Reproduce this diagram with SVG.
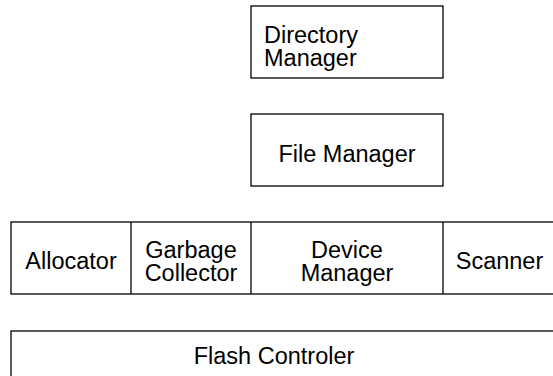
<svg xmlns="http://www.w3.org/2000/svg" width="553" height="376" viewBox="0 0 553 376">
<style>
.box{fill:#fff;stroke:#000;stroke-width:1.3}
.div{stroke:#000;stroke-width:1.3}
text{font-family:"Liberation Sans",Arial,Helvetica,sans-serif;font-size:23.5px;fill:#000}
.c{text-anchor:middle}
</style>
<rect width="553" height="376" fill="#fff"/>
<g id="directory-manager">
<rect class="box" x="251" y="6" width="192" height="72"/>
<text x="264" y="43">Directory</text>
<text x="264" y="66">Manager</text>
</g>
<g id="file-manager">
<rect class="box" x="251" y="114" width="192" height="72"/>
<text class="c" x="347" y="162">File Manager</text>
</g>
<g id="layer-row">
<rect class="box" x="11" y="222" width="545" height="72"/>
<line class="div" x1="131" y1="222" x2="131" y2="294"/>
<line class="div" x1="251" y1="222" x2="251" y2="294"/>
<line class="div" x1="443" y1="222" x2="443" y2="294"/>
</g>
<g id="allocator">
<text class="c" x="71" y="269">Allocator</text>
</g>
<g id="garbage-collector">
<text class="c" x="191" y="258">Garbage</text>
<text class="c" x="191" y="281">Collector</text>
</g>
<g id="device-manager">
<text class="c" x="347" y="258">Device</text>
<text class="c" x="347" y="281">Manager</text>
</g>
<g id="scanner">
<text class="c" x="499.5" y="269">Scanner</text>
</g>
<g id="flash-controler">
<rect class="box" x="11" y="331" width="545" height="72"/>
<text class="c" x="274" y="364">Flash Controler</text>
</g>
<g id="connectors"></g>
</svg>
